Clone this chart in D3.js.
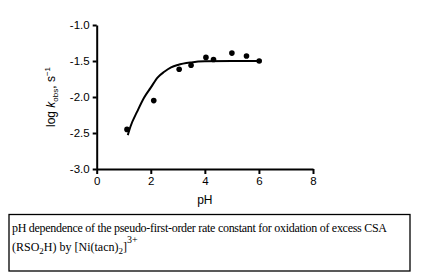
<!DOCTYPE html>
<html>
<head>
<meta charset="utf-8">
<script src="https://cdn.jsdelivr.net/npm/d3@7"></script>
<style>
  body { margin: 0; background: #fff; }
  svg { display: block; }
  .axis path, .axis line { stroke: #000; stroke-width: 2px; }
  .axis text { font-family: "Liberation Sans", Arial, sans-serif; font-size: 11.5px; fill: #000; }
</style>
</head>
<body>
<svg></svg>
<script>
const width = 421;
const height = 273;

// measured points
const phValues = [1.12, 2.11, 3.05, 3.49, 4.04, 4.32, 5.0, 5.54, 6.01];
const logK = [-2.45, -2.05, -1.615, -1.56, -1.45, -1.48, -1.39, -1.43, -1.50];

// fitted curve
const fitPh = [1.15, 1.25, 1.5, 1.75, 2.0, 2.25, 2.5, 2.75, 3.0, 3.5, 4.0, 5.0, 6.0];
const fitLogK = [-2.53, -2.41, -2.2, -2.01, -1.87, -1.73, -1.65, -1.59, -1.555, -1.52, -1.505, -1.5, -1.5];

const xTicks = [0, 2, 4, 6, 8];
const yTicks = [-3.0, -2.5, -2.0, -1.5, -1.0];

const svg = d3.select("svg")
    .attr("width", width)
    .attr("height", height);

const x = d3.scaleLinear().domain([0, 8]).range([96.7, 313]);
const y = d3.scaleLinear().domain([-3, -1]).range([169, 25]);

svg.append("g")
    .attr("class", "axis")
    .attr("transform", `translate(0,${y(-3)})`)
    .call(d3.axisBottom(x).tickValues(xTicks).tickSize(5).tickSizeOuter(0).tickPadding(3))
    .call(g => g.selectAll("text").attr("dy", "0.72em"));

svg.append("g")
    .attr("class", "axis")
    .attr("transform", `translate(${x(0)},0)`)
    .call(d3.axisLeft(y).tickValues(yTicks).tickSize(4).tickSizeOuter(0).tickPadding(3)
        .tickFormat(d => d3.format(".1f")(d).replace("−", "-")));

// fit line
const line = d3.line()
    .x((d, i) => x(fitPh[i]))
    .y(d => y(d))
    .curve(d3.curveMonotoneX);

svg.append("path")
    .datum(fitLogK)
    .attr("d", line)
    .attr("fill", "none")
    .attr("stroke", "#000")
    .attr("stroke-width", 2);

svg.append("g")
    .selectAll("circle")
    .data(logK)
    .join("circle")
    .attr("cx", (d, i) => x(phValues[i]))
    .attr("cy", d => y(d))
    .attr("r", 2.8)
    .attr("fill", "#000");

// axis titles
svg.append("text")
    .attr("x", x(4))
    .attr("y", 204)
    .attr("text-anchor", "middle")
    .style("font-family", "Liberation Sans, Arial, sans-serif")
    .style("font-size", "12px")
    .text("pH");

const yLabel = svg.append("text")
    .attr("transform", `translate(55,${y(-2)}) rotate(-90)`)
    .attr("text-anchor", "middle")
    .style("font-family", "Liberation Sans, Arial, sans-serif")
    .style("font-size", "12px");
yLabel.append("tspan").text("log ");
yLabel.append("tspan").style("font-style", "italic").text("k");
yLabel.append("tspan").attr("dy", 3).style("font-size", "8px").text("obs");
yLabel.append("tspan").attr("dy", -3).text(", s");
yLabel.append("tspan").attr("dy", -5).style("font-size", "8px").text("−1");

// caption box
svg.append("rect")
    .attr("x", 9)
    .attr("y", 214.5)
    .attr("width", 401)
    .attr("height", 56.5)
    .attr("fill", "none")
    .attr("stroke", "#000")
    .attr("stroke-width", 1.3);

const cap = svg.append("g")
    .style("font-family", "Liberation Serif, 'Times New Roman', serif")
    .style("font-size", "12px");

cap.append("text")
    .attr("x", 12)
    .attr("y", 231.5)
    .attr("textLength", 375)
    .attr("lengthAdjust", "spacing")
    .text("pH dependence of the pseudo-first-order rate constant for oxidation of excess CSA");

const l2 = cap.append("text")
    .attr("x", 12)
    .attr("y", 251);
l2.append("tspan").text("(RSO");
l2.append("tspan").attr("dy", 3).style("font-size", "9px").text("2");
l2.append("tspan").attr("dy", -3).text("H) by [Ni(tacn)");
l2.append("tspan").attr("dy", 3).style("font-size", "9px").text("2");
l2.append("tspan").attr("dy", -3).text("]");
l2.append("tspan").attr("dy", -8.5).style("font-size", "10px").text("3+");
</script>
</body>
</html>
